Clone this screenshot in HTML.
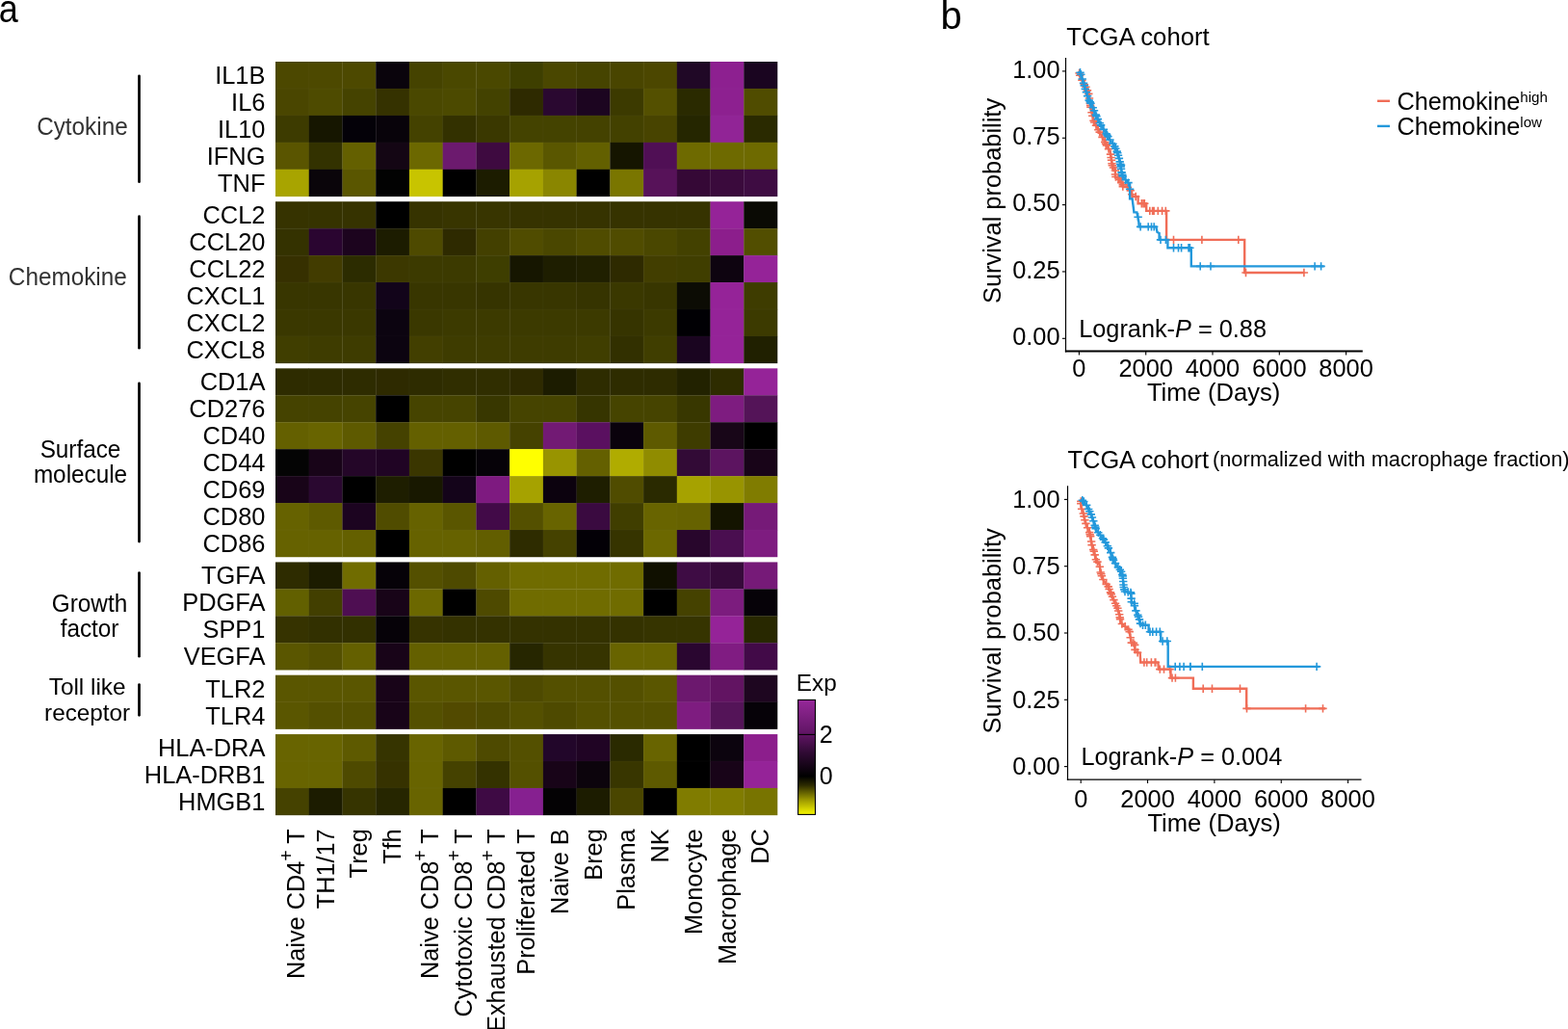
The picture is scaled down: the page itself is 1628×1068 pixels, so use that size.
<!DOCTYPE html><html><head><meta charset="utf-8"><style>html,body{margin:0;padding:0;background:#fff;}svg{display:block;}text{font-family:'Liberation Sans', Arial, sans-serif;}</style></head><body>
<svg width="1628" height="1068" viewBox="0 0 1628 1068">
<rect width="1628" height="1068" fill="#fff"/>
<text transform="translate(-1.3,23.2) scale(0.9,1)" font-size="40" fill="#000">a</text>
<text x="976.6" y="29.6" font-size="40" fill="#000">b</text>
<g>
<rect x="286.00" y="64.00" width="35.03" height="28.24" fill="#4c4800"/>
<rect x="320.73" y="64.00" width="35.03" height="28.24" fill="#4d4900"/>
<rect x="355.47" y="64.00" width="35.03" height="28.24" fill="#4d4900"/>
<rect x="390.20" y="64.00" width="35.03" height="28.24" fill="#0a040c"/>
<rect x="424.93" y="64.00" width="35.03" height="28.24" fill="#454300"/>
<rect x="459.67" y="64.00" width="35.03" height="28.24" fill="#4a4800"/>
<rect x="494.40" y="64.00" width="35.03" height="28.24" fill="#4a4800"/>
<rect x="529.13" y="64.00" width="35.03" height="28.24" fill="#3e3f00"/>
<rect x="563.87" y="64.00" width="35.03" height="28.24" fill="#4a4700"/>
<rect x="598.60" y="64.00" width="35.03" height="28.24" fill="#464400"/>
<rect x="633.33" y="64.00" width="35.03" height="28.24" fill="#494500"/>
<rect x="668.07" y="64.00" width="35.03" height="28.24" fill="#4c4700"/>
<rect x="702.80" y="64.00" width="35.03" height="28.24" fill="#200826"/>
<rect x="737.53" y="64.00" width="35.03" height="28.24" fill="#8d2090"/>
<rect x="772.27" y="64.00" width="35.03" height="28.24" fill="#1a0520"/>
<rect x="286.00" y="91.94" width="35.03" height="28.24" fill="#4a4600"/>
<rect x="320.73" y="91.94" width="35.03" height="28.24" fill="#4e4b00"/>
<rect x="355.47" y="91.94" width="35.03" height="28.24" fill="#454300"/>
<rect x="390.20" y="91.94" width="35.03" height="28.24" fill="#353200"/>
<rect x="424.93" y="91.94" width="35.03" height="28.24" fill="#4a4800"/>
<rect x="459.67" y="91.94" width="35.03" height="28.24" fill="#4c4a00"/>
<rect x="494.40" y="91.94" width="35.03" height="28.24" fill="#434200"/>
<rect x="529.13" y="91.94" width="35.03" height="28.24" fill="#2e2a00"/>
<rect x="563.87" y="91.94" width="35.03" height="28.24" fill="#2a0830"/>
<rect x="598.60" y="91.94" width="35.03" height="28.24" fill="#1c0520"/>
<rect x="633.33" y="91.94" width="35.03" height="28.24" fill="#3c3a00"/>
<rect x="668.07" y="91.94" width="35.03" height="28.24" fill="#545000"/>
<rect x="702.80" y="91.94" width="35.03" height="28.24" fill="#2a2a00"/>
<rect x="737.53" y="91.94" width="35.03" height="28.24" fill="#8d2090"/>
<rect x="772.27" y="91.94" width="35.03" height="28.24" fill="#504c00"/>
<rect x="286.00" y="119.88" width="35.03" height="28.24" fill="#3d3b00"/>
<rect x="320.73" y="119.88" width="35.03" height="28.24" fill="#161600"/>
<rect x="355.47" y="119.88" width="35.03" height="28.24" fill="#040108"/>
<rect x="390.20" y="119.88" width="35.03" height="28.24" fill="#08030a"/>
<rect x="424.93" y="119.88" width="35.03" height="28.24" fill="#444200"/>
<rect x="459.67" y="119.88" width="35.03" height="28.24" fill="#333100"/>
<rect x="494.40" y="119.88" width="35.03" height="28.24" fill="#3a3800"/>
<rect x="529.13" y="119.88" width="35.03" height="28.24" fill="#444300"/>
<rect x="563.87" y="119.88" width="35.03" height="28.24" fill="#444300"/>
<rect x="598.60" y="119.88" width="35.03" height="28.24" fill="#444200"/>
<rect x="633.33" y="119.88" width="35.03" height="28.24" fill="#434100"/>
<rect x="668.07" y="119.88" width="35.03" height="28.24" fill="#484400"/>
<rect x="702.80" y="119.88" width="35.03" height="28.24" fill="#252600"/>
<rect x="737.53" y="119.88" width="35.03" height="28.24" fill="#912496"/>
<rect x="772.27" y="119.88" width="35.03" height="28.24" fill="#2a2a00"/>
<rect x="286.00" y="147.82" width="35.03" height="28.24" fill="#5a5500"/>
<rect x="320.73" y="147.82" width="35.03" height="28.24" fill="#333200"/>
<rect x="355.47" y="147.82" width="35.03" height="28.24" fill="#646000"/>
<rect x="390.20" y="147.82" width="35.03" height="28.24" fill="#140614"/>
<rect x="424.93" y="147.82" width="35.03" height="28.24" fill="#6c6800"/>
<rect x="459.67" y="147.82" width="35.03" height="28.24" fill="#6c1a6e"/>
<rect x="494.40" y="147.82" width="35.03" height="28.24" fill="#3e0a40"/>
<rect x="529.13" y="147.82" width="35.03" height="28.24" fill="#6c6800"/>
<rect x="563.87" y="147.82" width="35.03" height="28.24" fill="#5a5700"/>
<rect x="598.60" y="147.82" width="35.03" height="28.24" fill="#636000"/>
<rect x="633.33" y="147.82" width="35.03" height="28.24" fill="#151500"/>
<rect x="668.07" y="147.82" width="35.03" height="28.24" fill="#500f55"/>
<rect x="702.80" y="147.82" width="35.03" height="28.24" fill="#6e6a00"/>
<rect x="737.53" y="147.82" width="35.03" height="28.24" fill="#6e6a00"/>
<rect x="772.27" y="147.82" width="35.03" height="28.24" fill="#6e6a00"/>
<rect x="286.00" y="175.76" width="35.03" height="28.24" fill="#a8a400"/>
<rect x="320.73" y="175.76" width="35.03" height="28.24" fill="#0a050a"/>
<rect x="355.47" y="175.76" width="35.03" height="28.24" fill="#5a5600"/>
<rect x="390.20" y="175.76" width="35.03" height="28.24" fill="#020202"/>
<rect x="424.93" y="175.76" width="35.03" height="28.24" fill="#c8c400"/>
<rect x="459.67" y="175.76" width="35.03" height="28.24" fill="#000000"/>
<rect x="494.40" y="175.76" width="35.03" height="28.24" fill="#1c1c00"/>
<rect x="529.13" y="175.76" width="35.03" height="28.24" fill="#a6a200"/>
<rect x="563.87" y="175.76" width="35.03" height="28.24" fill="#8a8600"/>
<rect x="598.60" y="175.76" width="35.03" height="28.24" fill="#000000"/>
<rect x="633.33" y="175.76" width="35.03" height="28.24" fill="#7a7600"/>
<rect x="668.07" y="175.76" width="35.03" height="28.24" fill="#571259"/>
<rect x="702.80" y="175.76" width="35.03" height="28.24" fill="#350836"/>
<rect x="737.53" y="175.76" width="35.03" height="28.24" fill="#3a0a3c"/>
<rect x="772.27" y="175.76" width="35.03" height="28.24" fill="#3e0c42"/>
<rect x="286.00" y="209.20" width="35.03" height="28.24" fill="#363300"/>
<rect x="320.73" y="209.20" width="35.03" height="28.24" fill="#363300"/>
<rect x="355.47" y="209.20" width="35.03" height="28.24" fill="#363300"/>
<rect x="390.20" y="209.20" width="35.03" height="28.24" fill="#000000"/>
<rect x="424.93" y="209.20" width="35.03" height="28.24" fill="#363300"/>
<rect x="459.67" y="209.20" width="35.03" height="28.24" fill="#383500"/>
<rect x="494.40" y="209.20" width="35.03" height="28.24" fill="#383500"/>
<rect x="529.13" y="209.20" width="35.03" height="28.24" fill="#363300"/>
<rect x="563.87" y="209.20" width="35.03" height="28.24" fill="#363300"/>
<rect x="598.60" y="209.20" width="35.03" height="28.24" fill="#363300"/>
<rect x="633.33" y="209.20" width="35.03" height="28.24" fill="#363300"/>
<rect x="668.07" y="209.20" width="35.03" height="28.24" fill="#363300"/>
<rect x="702.80" y="209.20" width="35.03" height="28.24" fill="#363300"/>
<rect x="737.53" y="209.20" width="35.03" height="28.24" fill="#952398"/>
<rect x="772.27" y="209.20" width="35.03" height="28.24" fill="#0a0a04"/>
<rect x="286.00" y="237.14" width="35.03" height="28.24" fill="#343200"/>
<rect x="320.73" y="237.14" width="35.03" height="28.24" fill="#2a0530"/>
<rect x="355.47" y="237.14" width="35.03" height="28.24" fill="#1c041e"/>
<rect x="390.20" y="237.14" width="35.03" height="28.24" fill="#1c1c00"/>
<rect x="424.93" y="237.14" width="35.03" height="28.24" fill="#4e4a00"/>
<rect x="459.67" y="237.14" width="35.03" height="28.24" fill="#2e2a00"/>
<rect x="494.40" y="237.14" width="35.03" height="28.24" fill="#434000"/>
<rect x="529.13" y="237.14" width="35.03" height="28.24" fill="#504c00"/>
<rect x="563.87" y="237.14" width="35.03" height="28.24" fill="#4a4700"/>
<rect x="598.60" y="237.14" width="35.03" height="28.24" fill="#504c00"/>
<rect x="633.33" y="237.14" width="35.03" height="28.24" fill="#504c00"/>
<rect x="668.07" y="237.14" width="35.03" height="28.24" fill="#4a4700"/>
<rect x="702.80" y="237.14" width="35.03" height="28.24" fill="#434100"/>
<rect x="737.53" y="237.14" width="35.03" height="28.24" fill="#8c1e8c"/>
<rect x="772.27" y="237.14" width="35.03" height="28.24" fill="#524e00"/>
<rect x="286.00" y="265.08" width="35.03" height="28.24" fill="#363000"/>
<rect x="320.73" y="265.08" width="35.03" height="28.24" fill="#423c00"/>
<rect x="355.47" y="265.08" width="35.03" height="28.24" fill="#2c2c00"/>
<rect x="390.20" y="265.08" width="35.03" height="28.24" fill="#3c3800"/>
<rect x="424.93" y="265.08" width="35.03" height="28.24" fill="#3c3a00"/>
<rect x="459.67" y="265.08" width="35.03" height="28.24" fill="#3c3a00"/>
<rect x="494.40" y="265.08" width="35.03" height="28.24" fill="#3e3e00"/>
<rect x="529.13" y="265.08" width="35.03" height="28.24" fill="#161600"/>
<rect x="563.87" y="265.08" width="35.03" height="28.24" fill="#1e1e00"/>
<rect x="598.60" y="265.08" width="35.03" height="28.24" fill="#202000"/>
<rect x="633.33" y="265.08" width="35.03" height="28.24" fill="#2e2a00"/>
<rect x="668.07" y="265.08" width="35.03" height="28.24" fill="#423e00"/>
<rect x="702.80" y="265.08" width="35.03" height="28.24" fill="#403e00"/>
<rect x="737.53" y="265.08" width="35.03" height="28.24" fill="#0e0410"/>
<rect x="772.27" y="265.08" width="35.03" height="28.24" fill="#952398"/>
<rect x="286.00" y="293.02" width="35.03" height="28.24" fill="#383600"/>
<rect x="320.73" y="293.02" width="35.03" height="28.24" fill="#383600"/>
<rect x="355.47" y="293.02" width="35.03" height="28.24" fill="#383600"/>
<rect x="390.20" y="293.02" width="35.03" height="28.24" fill="#12041a"/>
<rect x="424.93" y="293.02" width="35.03" height="28.24" fill="#383600"/>
<rect x="459.67" y="293.02" width="35.03" height="28.24" fill="#383600"/>
<rect x="494.40" y="293.02" width="35.03" height="28.24" fill="#363400"/>
<rect x="529.13" y="293.02" width="35.03" height="28.24" fill="#383600"/>
<rect x="563.87" y="293.02" width="35.03" height="28.24" fill="#383600"/>
<rect x="598.60" y="293.02" width="35.03" height="28.24" fill="#363400"/>
<rect x="633.33" y="293.02" width="35.03" height="28.24" fill="#3a3800"/>
<rect x="668.07" y="293.02" width="35.03" height="28.24" fill="#383600"/>
<rect x="702.80" y="293.02" width="35.03" height="28.24" fill="#0c0c04"/>
<rect x="737.53" y="293.02" width="35.03" height="28.24" fill="#952398"/>
<rect x="772.27" y="293.02" width="35.03" height="28.24" fill="#3e3c00"/>
<rect x="286.00" y="320.96" width="35.03" height="28.24" fill="#3a3800"/>
<rect x="320.73" y="320.96" width="35.03" height="28.24" fill="#3a3800"/>
<rect x="355.47" y="320.96" width="35.03" height="28.24" fill="#3a3800"/>
<rect x="390.20" y="320.96" width="35.03" height="28.24" fill="#0c0410"/>
<rect x="424.93" y="320.96" width="35.03" height="28.24" fill="#3a3800"/>
<rect x="459.67" y="320.96" width="35.03" height="28.24" fill="#3c3a00"/>
<rect x="494.40" y="320.96" width="35.03" height="28.24" fill="#3c3a00"/>
<rect x="529.13" y="320.96" width="35.03" height="28.24" fill="#3c3a00"/>
<rect x="563.87" y="320.96" width="35.03" height="28.24" fill="#3c3a00"/>
<rect x="598.60" y="320.96" width="35.03" height="28.24" fill="#3c3a00"/>
<rect x="633.33" y="320.96" width="35.03" height="28.24" fill="#363400"/>
<rect x="668.07" y="320.96" width="35.03" height="28.24" fill="#3c3a00"/>
<rect x="702.80" y="320.96" width="35.03" height="28.24" fill="#010004"/>
<rect x="737.53" y="320.96" width="35.03" height="28.24" fill="#952398"/>
<rect x="772.27" y="320.96" width="35.03" height="28.24" fill="#3c3a00"/>
<rect x="286.00" y="348.90" width="35.03" height="28.24" fill="#403e00"/>
<rect x="320.73" y="348.90" width="35.03" height="28.24" fill="#3e3c00"/>
<rect x="355.47" y="348.90" width="35.03" height="28.24" fill="#3e3c00"/>
<rect x="390.20" y="348.90" width="35.03" height="28.24" fill="#0c0410"/>
<rect x="424.93" y="348.90" width="35.03" height="28.24" fill="#423f00"/>
<rect x="459.67" y="348.90" width="35.03" height="28.24" fill="#3e3c00"/>
<rect x="494.40" y="348.90" width="35.03" height="28.24" fill="#3e3c00"/>
<rect x="529.13" y="348.90" width="35.03" height="28.24" fill="#3e3c00"/>
<rect x="563.87" y="348.90" width="35.03" height="28.24" fill="#3e3c00"/>
<rect x="598.60" y="348.90" width="35.03" height="28.24" fill="#403e00"/>
<rect x="633.33" y="348.90" width="35.03" height="28.24" fill="#323000"/>
<rect x="668.07" y="348.90" width="35.03" height="28.24" fill="#403e00"/>
<rect x="702.80" y="348.90" width="35.03" height="28.24" fill="#1a0520"/>
<rect x="737.53" y="348.90" width="35.03" height="28.24" fill="#952398"/>
<rect x="772.27" y="348.90" width="35.03" height="28.24" fill="#202000"/>
<rect x="286.00" y="382.34" width="35.03" height="28.24" fill="#2e2c00"/>
<rect x="320.73" y="382.34" width="35.03" height="28.24" fill="#2e2c00"/>
<rect x="355.47" y="382.34" width="35.03" height="28.24" fill="#2e2c00"/>
<rect x="390.20" y="382.34" width="35.03" height="28.24" fill="#2e2a00"/>
<rect x="424.93" y="382.34" width="35.03" height="28.24" fill="#2e2c00"/>
<rect x="459.67" y="382.34" width="35.03" height="28.24" fill="#302e00"/>
<rect x="494.40" y="382.34" width="35.03" height="28.24" fill="#302e00"/>
<rect x="529.13" y="382.34" width="35.03" height="28.24" fill="#2e2a00"/>
<rect x="563.87" y="382.34" width="35.03" height="28.24" fill="#1c1c00"/>
<rect x="598.60" y="382.34" width="35.03" height="28.24" fill="#2e2c00"/>
<rect x="633.33" y="382.34" width="35.03" height="28.24" fill="#2e2c00"/>
<rect x="668.07" y="382.34" width="35.03" height="28.24" fill="#2e2c00"/>
<rect x="702.80" y="382.34" width="35.03" height="28.24" fill="#222200"/>
<rect x="737.53" y="382.34" width="35.03" height="28.24" fill="#2e2c00"/>
<rect x="772.27" y="382.34" width="35.03" height="28.24" fill="#952398"/>
<rect x="286.00" y="410.28" width="35.03" height="28.24" fill="#454300"/>
<rect x="320.73" y="410.28" width="35.03" height="28.24" fill="#454300"/>
<rect x="355.47" y="410.28" width="35.03" height="28.24" fill="#464400"/>
<rect x="390.20" y="410.28" width="35.03" height="28.24" fill="#000000"/>
<rect x="424.93" y="410.28" width="35.03" height="28.24" fill="#464400"/>
<rect x="459.67" y="410.28" width="35.03" height="28.24" fill="#464400"/>
<rect x="494.40" y="410.28" width="35.03" height="28.24" fill="#383700"/>
<rect x="529.13" y="410.28" width="35.03" height="28.24" fill="#464400"/>
<rect x="563.87" y="410.28" width="35.03" height="28.24" fill="#464400"/>
<rect x="598.60" y="410.28" width="35.03" height="28.24" fill="#363500"/>
<rect x="633.33" y="410.28" width="35.03" height="28.24" fill="#464400"/>
<rect x="668.07" y="410.28" width="35.03" height="28.24" fill="#464400"/>
<rect x="702.80" y="410.28" width="35.03" height="28.24" fill="#383700"/>
<rect x="737.53" y="410.28" width="35.03" height="28.24" fill="#7e1c80"/>
<rect x="772.27" y="410.28" width="35.03" height="28.24" fill="#541458"/>
<rect x="286.00" y="438.22" width="35.03" height="28.24" fill="#646000"/>
<rect x="320.73" y="438.22" width="35.03" height="28.24" fill="#686400"/>
<rect x="355.47" y="438.22" width="35.03" height="28.24" fill="#5e5a00"/>
<rect x="390.20" y="438.22" width="35.03" height="28.24" fill="#454200"/>
<rect x="424.93" y="438.22" width="35.03" height="28.24" fill="#646000"/>
<rect x="459.67" y="438.22" width="35.03" height="28.24" fill="#646000"/>
<rect x="494.40" y="438.22" width="35.03" height="28.24" fill="#5e5a00"/>
<rect x="529.13" y="438.22" width="35.03" height="28.24" fill="#454200"/>
<rect x="563.87" y="438.22" width="35.03" height="28.24" fill="#721a74"/>
<rect x="598.60" y="438.22" width="35.03" height="28.24" fill="#5a1060"/>
<rect x="633.33" y="438.22" width="35.03" height="28.24" fill="#0a020c"/>
<rect x="668.07" y="438.22" width="35.03" height="28.24" fill="#5e5a00"/>
<rect x="702.80" y="438.22" width="35.03" height="28.24" fill="#3e3c00"/>
<rect x="737.53" y="438.22" width="35.03" height="28.24" fill="#180618"/>
<rect x="772.27" y="438.22" width="35.03" height="28.24" fill="#000000"/>
<rect x="286.00" y="466.16" width="35.03" height="28.24" fill="#040404"/>
<rect x="320.73" y="466.16" width="35.03" height="28.24" fill="#180418"/>
<rect x="355.47" y="466.16" width="35.03" height="28.24" fill="#240628"/>
<rect x="390.20" y="466.16" width="35.03" height="28.24" fill="#200424"/>
<rect x="424.93" y="466.16" width="35.03" height="28.24" fill="#3a3600"/>
<rect x="459.67" y="466.16" width="35.03" height="28.24" fill="#000000"/>
<rect x="494.40" y="466.16" width="35.03" height="28.24" fill="#060208"/>
<rect x="529.13" y="466.16" width="35.03" height="28.24" fill="#ffff00"/>
<rect x="563.87" y="466.16" width="35.03" height="28.24" fill="#989400"/>
<rect x="598.60" y="466.16" width="35.03" height="28.24" fill="#646000"/>
<rect x="633.33" y="466.16" width="35.03" height="28.24" fill="#b0ac00"/>
<rect x="668.07" y="466.16" width="35.03" height="28.24" fill="#908c00"/>
<rect x="702.80" y="466.16" width="35.03" height="28.24" fill="#320a36"/>
<rect x="737.53" y="466.16" width="35.03" height="28.24" fill="#5c1460"/>
<rect x="772.27" y="466.16" width="35.03" height="28.24" fill="#180418"/>
<rect x="286.00" y="494.10" width="35.03" height="28.24" fill="#180418"/>
<rect x="320.73" y="494.10" width="35.03" height="28.24" fill="#2a0830"/>
<rect x="355.47" y="494.10" width="35.03" height="28.24" fill="#000000"/>
<rect x="390.20" y="494.10" width="35.03" height="28.24" fill="#1e1e00"/>
<rect x="424.93" y="494.10" width="35.03" height="28.24" fill="#181800"/>
<rect x="459.67" y="494.10" width="35.03" height="28.24" fill="#14041a"/>
<rect x="494.40" y="494.10" width="35.03" height="28.24" fill="#7e1a80"/>
<rect x="529.13" y="494.10" width="35.03" height="28.24" fill="#a6a200"/>
<rect x="563.87" y="494.10" width="35.03" height="28.24" fill="#0c020e"/>
<rect x="598.60" y="494.10" width="35.03" height="28.24" fill="#1e1e00"/>
<rect x="633.33" y="494.10" width="35.03" height="28.24" fill="#504c00"/>
<rect x="668.07" y="494.10" width="35.03" height="28.24" fill="#2a2a00"/>
<rect x="702.80" y="494.10" width="35.03" height="28.24" fill="#a6a200"/>
<rect x="737.53" y="494.10" width="35.03" height="28.24" fill="#989400"/>
<rect x="772.27" y="494.10" width="35.03" height="28.24" fill="#807c00"/>
<rect x="286.00" y="522.04" width="35.03" height="28.24" fill="#666200"/>
<rect x="320.73" y="522.04" width="35.03" height="28.24" fill="#5e5a00"/>
<rect x="355.47" y="522.04" width="35.03" height="28.24" fill="#1c0420"/>
<rect x="390.20" y="522.04" width="35.03" height="28.24" fill="#504c00"/>
<rect x="424.93" y="522.04" width="35.03" height="28.24" fill="#666200"/>
<rect x="459.67" y="522.04" width="35.03" height="28.24" fill="#5a5600"/>
<rect x="494.40" y="522.04" width="35.03" height="28.24" fill="#420a48"/>
<rect x="529.13" y="522.04" width="35.03" height="28.24" fill="#545000"/>
<rect x="563.87" y="522.04" width="35.03" height="28.24" fill="#686400"/>
<rect x="598.60" y="522.04" width="35.03" height="28.24" fill="#3a0a40"/>
<rect x="633.33" y="522.04" width="35.03" height="28.24" fill="#403e00"/>
<rect x="668.07" y="522.04" width="35.03" height="28.24" fill="#686400"/>
<rect x="702.80" y="522.04" width="35.03" height="28.24" fill="#666200"/>
<rect x="737.53" y="522.04" width="35.03" height="28.24" fill="#141400"/>
<rect x="772.27" y="522.04" width="35.03" height="28.24" fill="#761a78"/>
<rect x="286.00" y="549.98" width="35.03" height="28.24" fill="#666200"/>
<rect x="320.73" y="549.98" width="35.03" height="28.24" fill="#666200"/>
<rect x="355.47" y="549.98" width="35.03" height="28.24" fill="#646000"/>
<rect x="390.20" y="549.98" width="35.03" height="28.24" fill="#000000"/>
<rect x="424.93" y="549.98" width="35.03" height="28.24" fill="#666200"/>
<rect x="459.67" y="549.98" width="35.03" height="28.24" fill="#666200"/>
<rect x="494.40" y="549.98" width="35.03" height="28.24" fill="#625e00"/>
<rect x="529.13" y="549.98" width="35.03" height="28.24" fill="#2e2c00"/>
<rect x="563.87" y="549.98" width="35.03" height="28.24" fill="#454200"/>
<rect x="598.60" y="549.98" width="35.03" height="28.24" fill="#030006"/>
<rect x="633.33" y="549.98" width="35.03" height="28.24" fill="#363400"/>
<rect x="668.07" y="549.98" width="35.03" height="28.24" fill="#6c6800"/>
<rect x="702.80" y="549.98" width="35.03" height="28.24" fill="#28062c"/>
<rect x="737.53" y="549.98" width="35.03" height="28.24" fill="#4a0e50"/>
<rect x="772.27" y="549.98" width="35.03" height="28.24" fill="#7e1c80"/>
<rect x="286.00" y="583.42" width="35.03" height="28.24" fill="#2e2c00"/>
<rect x="320.73" y="583.42" width="35.03" height="28.24" fill="#1c1c00"/>
<rect x="355.47" y="583.42" width="35.03" height="28.24" fill="#706c00"/>
<rect x="390.20" y="583.42" width="35.03" height="28.24" fill="#060208"/>
<rect x="424.93" y="583.42" width="35.03" height="28.24" fill="#545000"/>
<rect x="459.67" y="583.42" width="35.03" height="28.24" fill="#4e4a00"/>
<rect x="494.40" y="583.42" width="35.03" height="28.24" fill="#646000"/>
<rect x="529.13" y="583.42" width="35.03" height="28.24" fill="#706c00"/>
<rect x="563.87" y="583.42" width="35.03" height="28.24" fill="#706c00"/>
<rect x="598.60" y="583.42" width="35.03" height="28.24" fill="#706c00"/>
<rect x="633.33" y="583.42" width="35.03" height="28.24" fill="#706c00"/>
<rect x="668.07" y="583.42" width="35.03" height="28.24" fill="#101000"/>
<rect x="702.80" y="583.42" width="35.03" height="28.24" fill="#3e0c44"/>
<rect x="737.53" y="583.42" width="35.03" height="28.24" fill="#360a3a"/>
<rect x="772.27" y="583.42" width="35.03" height="28.24" fill="#761a78"/>
<rect x="286.00" y="611.36" width="35.03" height="28.24" fill="#626000"/>
<rect x="320.73" y="611.36" width="35.03" height="28.24" fill="#423f00"/>
<rect x="355.47" y="611.36" width="35.03" height="28.24" fill="#4e0e52"/>
<rect x="390.20" y="611.36" width="35.03" height="28.24" fill="#180418"/>
<rect x="424.93" y="611.36" width="35.03" height="28.24" fill="#6c6800"/>
<rect x="459.67" y="611.36" width="35.03" height="28.24" fill="#000000"/>
<rect x="494.40" y="611.36" width="35.03" height="28.24" fill="#4e4a00"/>
<rect x="529.13" y="611.36" width="35.03" height="28.24" fill="#706c00"/>
<rect x="563.87" y="611.36" width="35.03" height="28.24" fill="#706c00"/>
<rect x="598.60" y="611.36" width="35.03" height="28.24" fill="#706c00"/>
<rect x="633.33" y="611.36" width="35.03" height="28.24" fill="#706c00"/>
<rect x="668.07" y="611.36" width="35.03" height="28.24" fill="#000000"/>
<rect x="702.80" y="611.36" width="35.03" height="28.24" fill="#454200"/>
<rect x="737.53" y="611.36" width="35.03" height="28.24" fill="#7c1c7e"/>
<rect x="772.27" y="611.36" width="35.03" height="28.24" fill="#060208"/>
<rect x="286.00" y="639.30" width="35.03" height="28.24" fill="#363300"/>
<rect x="320.73" y="639.30" width="35.03" height="28.24" fill="#323000"/>
<rect x="355.47" y="639.30" width="35.03" height="28.24" fill="#323000"/>
<rect x="390.20" y="639.30" width="35.03" height="28.24" fill="#060208"/>
<rect x="424.93" y="639.30" width="35.03" height="28.24" fill="#363300"/>
<rect x="459.67" y="639.30" width="35.03" height="28.24" fill="#343200"/>
<rect x="494.40" y="639.30" width="35.03" height="28.24" fill="#343200"/>
<rect x="529.13" y="639.30" width="35.03" height="28.24" fill="#343200"/>
<rect x="563.87" y="639.30" width="35.03" height="28.24" fill="#343200"/>
<rect x="598.60" y="639.30" width="35.03" height="28.24" fill="#343200"/>
<rect x="633.33" y="639.30" width="35.03" height="28.24" fill="#343200"/>
<rect x="668.07" y="639.30" width="35.03" height="28.24" fill="#363400"/>
<rect x="702.80" y="639.30" width="35.03" height="28.24" fill="#363400"/>
<rect x="737.53" y="639.30" width="35.03" height="28.24" fill="#952398"/>
<rect x="772.27" y="639.30" width="35.03" height="28.24" fill="#282800"/>
<rect x="286.00" y="667.24" width="35.03" height="28.24" fill="#5a5600"/>
<rect x="320.73" y="667.24" width="35.03" height="28.24" fill="#545000"/>
<rect x="355.47" y="667.24" width="35.03" height="28.24" fill="#646000"/>
<rect x="390.20" y="667.24" width="35.03" height="28.24" fill="#180418"/>
<rect x="424.93" y="667.24" width="35.03" height="28.24" fill="#646000"/>
<rect x="459.67" y="667.24" width="35.03" height="28.24" fill="#646000"/>
<rect x="494.40" y="667.24" width="35.03" height="28.24" fill="#646000"/>
<rect x="529.13" y="667.24" width="35.03" height="28.24" fill="#262600"/>
<rect x="563.87" y="667.24" width="35.03" height="28.24" fill="#363400"/>
<rect x="598.60" y="667.24" width="35.03" height="28.24" fill="#363400"/>
<rect x="633.33" y="667.24" width="35.03" height="28.24" fill="#686400"/>
<rect x="668.07" y="667.24" width="35.03" height="28.24" fill="#686400"/>
<rect x="702.80" y="667.24" width="35.03" height="28.24" fill="#2a0630"/>
<rect x="737.53" y="667.24" width="35.03" height="28.24" fill="#801c82"/>
<rect x="772.27" y="667.24" width="35.03" height="28.24" fill="#420a48"/>
<rect x="286.00" y="700.68" width="35.03" height="28.24" fill="#5a5600"/>
<rect x="320.73" y="700.68" width="35.03" height="28.24" fill="#5a5600"/>
<rect x="355.47" y="700.68" width="35.03" height="28.24" fill="#5a5600"/>
<rect x="390.20" y="700.68" width="35.03" height="28.24" fill="#180418"/>
<rect x="424.93" y="700.68" width="35.03" height="28.24" fill="#5a5600"/>
<rect x="459.67" y="700.68" width="35.03" height="28.24" fill="#5a5600"/>
<rect x="494.40" y="700.68" width="35.03" height="28.24" fill="#5a5600"/>
<rect x="529.13" y="700.68" width="35.03" height="28.24" fill="#4e4a00"/>
<rect x="563.87" y="700.68" width="35.03" height="28.24" fill="#545000"/>
<rect x="598.60" y="700.68" width="35.03" height="28.24" fill="#545000"/>
<rect x="633.33" y="700.68" width="35.03" height="28.24" fill="#545000"/>
<rect x="668.07" y="700.68" width="35.03" height="28.24" fill="#5a5600"/>
<rect x="702.80" y="700.68" width="35.03" height="28.24" fill="#6c186e"/>
<rect x="737.53" y="700.68" width="35.03" height="28.24" fill="#621462"/>
<rect x="772.27" y="700.68" width="35.03" height="28.24" fill="#1e0620"/>
<rect x="286.00" y="728.62" width="35.03" height="28.24" fill="#5a5600"/>
<rect x="320.73" y="728.62" width="35.03" height="28.24" fill="#545000"/>
<rect x="355.47" y="728.62" width="35.03" height="28.24" fill="#545000"/>
<rect x="390.20" y="728.62" width="35.03" height="28.24" fill="#180418"/>
<rect x="424.93" y="728.62" width="35.03" height="28.24" fill="#545000"/>
<rect x="459.67" y="728.62" width="35.03" height="28.24" fill="#524a00"/>
<rect x="494.40" y="728.62" width="35.03" height="28.24" fill="#4e4a00"/>
<rect x="529.13" y="728.62" width="35.03" height="28.24" fill="#545000"/>
<rect x="563.87" y="728.62" width="35.03" height="28.24" fill="#4e4a00"/>
<rect x="598.60" y="728.62" width="35.03" height="28.24" fill="#545000"/>
<rect x="633.33" y="728.62" width="35.03" height="28.24" fill="#545000"/>
<rect x="668.07" y="728.62" width="35.03" height="28.24" fill="#545000"/>
<rect x="702.80" y="728.62" width="35.03" height="28.24" fill="#7e1c80"/>
<rect x="737.53" y="728.62" width="35.03" height="28.24" fill="#541458"/>
<rect x="772.27" y="728.62" width="35.03" height="28.24" fill="#060208"/>
<rect x="286.00" y="762.06" width="35.03" height="28.24" fill="#686400"/>
<rect x="320.73" y="762.06" width="35.03" height="28.24" fill="#686400"/>
<rect x="355.47" y="762.06" width="35.03" height="28.24" fill="#5e5a00"/>
<rect x="390.20" y="762.06" width="35.03" height="28.24" fill="#363400"/>
<rect x="424.93" y="762.06" width="35.03" height="28.24" fill="#686400"/>
<rect x="459.67" y="762.06" width="35.03" height="28.24" fill="#5e5a00"/>
<rect x="494.40" y="762.06" width="35.03" height="28.24" fill="#4e4a00"/>
<rect x="529.13" y="762.06" width="35.03" height="28.24" fill="#545000"/>
<rect x="563.87" y="762.06" width="35.03" height="28.24" fill="#22062a"/>
<rect x="598.60" y="762.06" width="35.03" height="28.24" fill="#200424"/>
<rect x="633.33" y="762.06" width="35.03" height="28.24" fill="#2a2a00"/>
<rect x="668.07" y="762.06" width="35.03" height="28.24" fill="#686400"/>
<rect x="702.80" y="762.06" width="35.03" height="28.24" fill="#000000"/>
<rect x="737.53" y="762.06" width="35.03" height="28.24" fill="#0c040e"/>
<rect x="772.27" y="762.06" width="35.03" height="28.24" fill="#8c1e8c"/>
<rect x="286.00" y="790.00" width="35.03" height="28.24" fill="#686400"/>
<rect x="320.73" y="790.00" width="35.03" height="28.24" fill="#686400"/>
<rect x="355.47" y="790.00" width="35.03" height="28.24" fill="#4e4a00"/>
<rect x="390.20" y="790.00" width="35.03" height="28.24" fill="#363200"/>
<rect x="424.93" y="790.00" width="35.03" height="28.24" fill="#686400"/>
<rect x="459.67" y="790.00" width="35.03" height="28.24" fill="#454200"/>
<rect x="494.40" y="790.00" width="35.03" height="28.24" fill="#343200"/>
<rect x="529.13" y="790.00" width="35.03" height="28.24" fill="#545000"/>
<rect x="563.87" y="790.00" width="35.03" height="28.24" fill="#180418"/>
<rect x="598.60" y="790.00" width="35.03" height="28.24" fill="#0c040c"/>
<rect x="633.33" y="790.00" width="35.03" height="28.24" fill="#383600"/>
<rect x="668.07" y="790.00" width="35.03" height="28.24" fill="#5e5a00"/>
<rect x="702.80" y="790.00" width="35.03" height="28.24" fill="#000000"/>
<rect x="737.53" y="790.00" width="35.03" height="28.24" fill="#180418"/>
<rect x="772.27" y="790.00" width="35.03" height="28.24" fill="#952398"/>
<rect x="286.00" y="817.94" width="35.03" height="28.24" fill="#454200"/>
<rect x="320.73" y="817.94" width="35.03" height="28.24" fill="#1c1c00"/>
<rect x="355.47" y="817.94" width="35.03" height="28.24" fill="#363400"/>
<rect x="390.20" y="817.94" width="35.03" height="28.24" fill="#262600"/>
<rect x="424.93" y="817.94" width="35.03" height="28.24" fill="#686400"/>
<rect x="459.67" y="817.94" width="35.03" height="28.24" fill="#000000"/>
<rect x="494.40" y="817.94" width="35.03" height="28.24" fill="#3e0a44"/>
<rect x="529.13" y="817.94" width="35.03" height="28.24" fill="#862090"/>
<rect x="563.87" y="817.94" width="35.03" height="28.24" fill="#040204"/>
<rect x="598.60" y="817.94" width="35.03" height="28.24" fill="#1c1c00"/>
<rect x="633.33" y="817.94" width="35.03" height="28.24" fill="#4a4600"/>
<rect x="668.07" y="817.94" width="35.03" height="28.24" fill="#000000"/>
<rect x="702.80" y="817.94" width="35.03" height="28.24" fill="#807c00"/>
<rect x="737.53" y="817.94" width="35.03" height="28.24" fill="#807c00"/>
<rect x="772.27" y="817.94" width="35.03" height="28.24" fill="#787400"/>
</g>
<path d="M320.73 64.00V203.70M355.47 64.00V203.70M390.20 64.00V203.70M424.93 64.00V203.70M459.67 64.00V203.70M494.40 64.00V203.70M529.13 64.00V203.70M563.87 64.00V203.70M598.60 64.00V203.70M633.33 64.00V203.70M668.07 64.00V203.70M702.80 64.00V203.70M737.53 64.00V203.70M772.27 64.00V203.70M286.0 91.94H807.0M286.0 119.88H807.0M286.0 147.82H807.0M286.0 175.76H807.0M320.73 209.20V376.84M355.47 209.20V376.84M390.20 209.20V376.84M424.93 209.20V376.84M459.67 209.20V376.84M494.40 209.20V376.84M529.13 209.20V376.84M563.87 209.20V376.84M598.60 209.20V376.84M633.33 209.20V376.84M668.07 209.20V376.84M702.80 209.20V376.84M737.53 209.20V376.84M772.27 209.20V376.84M286.0 237.14H807.0M286.0 265.08H807.0M286.0 293.02H807.0M286.0 320.96H807.0M286.0 348.90H807.0M320.73 382.34V577.92M355.47 382.34V577.92M390.20 382.34V577.92M424.93 382.34V577.92M459.67 382.34V577.92M494.40 382.34V577.92M529.13 382.34V577.92M563.87 382.34V577.92M598.60 382.34V577.92M633.33 382.34V577.92M668.07 382.34V577.92M702.80 382.34V577.92M737.53 382.34V577.92M772.27 382.34V577.92M286.0 410.28H807.0M286.0 438.22H807.0M286.0 466.16H807.0M286.0 494.10H807.0M286.0 522.04H807.0M286.0 549.98H807.0M320.73 583.42V695.18M355.47 583.42V695.18M390.20 583.42V695.18M424.93 583.42V695.18M459.67 583.42V695.18M494.40 583.42V695.18M529.13 583.42V695.18M563.87 583.42V695.18M598.60 583.42V695.18M633.33 583.42V695.18M668.07 583.42V695.18M702.80 583.42V695.18M737.53 583.42V695.18M772.27 583.42V695.18M286.0 611.36H807.0M286.0 639.30H807.0M286.0 667.24H807.0M320.73 700.68V756.56M355.47 700.68V756.56M390.20 700.68V756.56M424.93 700.68V756.56M459.67 700.68V756.56M494.40 700.68V756.56M529.13 700.68V756.56M563.87 700.68V756.56M598.60 700.68V756.56M633.33 700.68V756.56M668.07 700.68V756.56M702.80 700.68V756.56M737.53 700.68V756.56M772.27 700.68V756.56M286.0 728.62H807.0M320.73 762.06V845.88M355.47 762.06V845.88M390.20 762.06V845.88M424.93 762.06V845.88M459.67 762.06V845.88M494.40 762.06V845.88M529.13 762.06V845.88M563.87 762.06V845.88M598.60 762.06V845.88M633.33 762.06V845.88M668.07 762.06V845.88M702.80 762.06V845.88M737.53 762.06V845.88M772.27 762.06V845.88M286.0 790.00H807.0M286.0 817.94H807.0" stroke="#fff" stroke-opacity="0.05" stroke-width="0.6" fill="none"/>
<text x="275.4" y="87.06" font-size="25.4" text-anchor="end" fill="#000">IL1B</text>
<text x="275.4" y="115.00" font-size="25.4" text-anchor="end" fill="#000">IL6</text>
<text x="275.4" y="142.94" font-size="25.4" text-anchor="end" fill="#000">IL10</text>
<text x="275.4" y="170.88" font-size="25.4" text-anchor="end" fill="#000">IFNG</text>
<text x="275.4" y="198.82" font-size="25.4" text-anchor="end" fill="#000">TNF</text>
<text x="275.4" y="232.26" font-size="25.4" text-anchor="end" fill="#000">CCL2</text>
<text x="275.4" y="260.20" font-size="25.4" text-anchor="end" fill="#000">CCL20</text>
<text x="275.4" y="288.14" font-size="25.4" text-anchor="end" fill="#000">CCL22</text>
<text x="275.4" y="316.08" font-size="25.4" text-anchor="end" fill="#000">CXCL1</text>
<text x="275.4" y="344.02" font-size="25.4" text-anchor="end" fill="#000">CXCL2</text>
<text x="275.4" y="371.96" font-size="25.4" text-anchor="end" fill="#000">CXCL8</text>
<text x="275.4" y="405.40" font-size="25.4" text-anchor="end" fill="#000">CD1A</text>
<text x="275.4" y="433.34" font-size="25.4" text-anchor="end" fill="#000">CD276</text>
<text x="275.4" y="461.28" font-size="25.4" text-anchor="end" fill="#000">CD40</text>
<text x="275.4" y="489.22" font-size="25.4" text-anchor="end" fill="#000">CD44</text>
<text x="275.4" y="517.16" font-size="25.4" text-anchor="end" fill="#000">CD69</text>
<text x="275.4" y="545.10" font-size="25.4" text-anchor="end" fill="#000">CD80</text>
<text x="275.4" y="573.04" font-size="25.4" text-anchor="end" fill="#000">CD86</text>
<text x="275.4" y="606.48" font-size="25.4" text-anchor="end" fill="#000">TGFA</text>
<text x="275.4" y="634.42" font-size="25.4" text-anchor="end" fill="#000">PDGFA</text>
<text x="275.4" y="662.36" font-size="25.4" text-anchor="end" fill="#000">SPP1</text>
<text x="275.4" y="690.30" font-size="25.4" text-anchor="end" fill="#000">VEGFA</text>
<text x="275.4" y="723.74" font-size="25.4" text-anchor="end" fill="#000">TLR2</text>
<text x="275.4" y="751.68" font-size="25.4" text-anchor="end" fill="#000">TLR4</text>
<text x="275.4" y="785.12" font-size="25.4" text-anchor="end" fill="#000">HLA-DRA</text>
<text x="275.4" y="813.06" font-size="25.4" text-anchor="end" fill="#000">HLA-DRB1</text>
<text x="275.4" y="841.00" font-size="25.4" text-anchor="end" fill="#000">HMGB1</text>
<line x1="144.5" y1="78.75" x2="144.5" y2="188.75" stroke="#000" stroke-width="2.7" stroke-linecap="round"/>
<line x1="144.5" y1="224.65" x2="144.5" y2="361.25" stroke="#000" stroke-width="2.7" stroke-linecap="round"/>
<line x1="144.5" y1="397.95" x2="144.5" y2="562.05" stroke="#000" stroke-width="2.7" stroke-linecap="round"/>
<line x1="144.5" y1="594.55" x2="144.5" y2="681.25" stroke="#000" stroke-width="2.7" stroke-linecap="round"/>
<line x1="144.5" y1="710.55" x2="144.5" y2="742.35" stroke="#000" stroke-width="2.7" stroke-linecap="round"/>
<text transform="translate(85.4,139.90) scale(1,1.08)" font-size="24.3" text-anchor="middle" fill="#333">Cytokine</text>
<text transform="translate(70.3,295.50) scale(1,1.08)" font-size="24.3" text-anchor="middle" fill="#333">Chemokine</text>
<text transform="translate(83.5,474.80) scale(1,1.08)" font-size="24.3" text-anchor="middle" fill="#000">Surface</text>
<text transform="translate(83.5,500.80) scale(1,1.08)" font-size="24.3" text-anchor="middle" fill="#000">molecule</text>
<text transform="translate(93.0,634.70) scale(1,1.08)" font-size="24.3" text-anchor="middle" fill="#000">Growth</text>
<text transform="translate(93.0,660.60) scale(1,1.08)" font-size="24.3" text-anchor="middle" fill="#000">factor</text>
<text transform="translate(90.6,721.40) scale(1,1.0)" font-size="24.3" text-anchor="middle" fill="#000">Toll like</text>
<text transform="translate(90.6,748.10) scale(1,1.0)" font-size="24.3" text-anchor="middle" fill="#000">receptor</text>
<text transform="translate(315.92,860.3) rotate(-90)" font-size="25.3" text-anchor="end" fill="#000">Naive CD4<tspan font-size="19.5" dy="-11.7">+</tspan><tspan dy="11.7"> T</tspan></text>
<text transform="translate(346.76,860.3) rotate(-90)" font-size="25.3" text-anchor="end" fill="#000">TH1/17</text>
<text transform="translate(381.49,860.3) rotate(-90)" font-size="25.3" text-anchor="end" fill="#000">Treg</text>
<text transform="translate(416.22,860.3) rotate(-90)" font-size="25.3" text-anchor="end" fill="#000">Tfh</text>
<text transform="translate(454.86,860.3) rotate(-90)" font-size="25.3" text-anchor="end" fill="#000">Naive CD8<tspan font-size="19.5" dy="-11.7">+</tspan><tspan dy="11.7"> T</tspan></text>
<text transform="translate(489.59,860.3) rotate(-90)" font-size="25.3" text-anchor="end" fill="#000">Cytotoxic CD8<tspan font-size="19.5" dy="-11.7">+</tspan><tspan dy="11.7"> T</tspan></text>
<text transform="translate(524.32,860.3) rotate(-90)" font-size="25.3" text-anchor="end" fill="#000">Exhausted CD8<tspan font-size="19.5" dy="-11.7">+</tspan><tspan dy="11.7"> T</tspan></text>
<text transform="translate(555.16,860.3) rotate(-90)" font-size="25.3" text-anchor="end" fill="#000">Proliferated T</text>
<text transform="translate(589.89,860.3) rotate(-90)" font-size="25.3" text-anchor="end" fill="#000">Naive B</text>
<text transform="translate(624.62,860.3) rotate(-90)" font-size="25.3" text-anchor="end" fill="#000">Breg</text>
<text transform="translate(659.36,860.3) rotate(-90)" font-size="25.3" text-anchor="end" fill="#000">Plasma</text>
<text transform="translate(694.09,860.3) rotate(-90)" font-size="25.3" text-anchor="end" fill="#000">NK</text>
<text transform="translate(728.82,860.3) rotate(-90)" font-size="25.3" text-anchor="end" fill="#000">Monocyte</text>
<text transform="translate(763.56,860.3) rotate(-90)" font-size="25.3" text-anchor="end" fill="#000">Macrophage</text>
<text transform="translate(798.29,860.3) rotate(-90)" font-size="25.3" text-anchor="end" fill="#000">DC</text>
<defs><linearGradient id="lg" x1="0" y1="0" x2="0" y2="1"><stop offset="0" stop-color="#962899"/><stop offset="0.305" stop-color="#5e1462"/><stop offset="0.46" stop-color="#300a34"/><stop offset="0.667" stop-color="#000000"/><stop offset="0.745" stop-color="#2c2a00"/><stop offset="0.87" stop-color="#9a9600"/><stop offset="1" stop-color="#f8f800"/></linearGradient></defs>
<rect x="828.6" y="726.4" width="17.9" height="119" fill="url(#lg)" stroke="#000" stroke-width="1.1"/>
<line x1="828.6" y1="762.4" x2="846.5" y2="762.4" stroke="#000" stroke-width="1.1"/>
<text x="826.8" y="717" font-size="24.3" fill="#000">Exp</text>
<text x="850.8" y="771" font-size="25" fill="#000">2</text>
<text x="850.8" y="813.8" font-size="25" fill="#000">0</text>
<line x1="1106.5" y1="60.1" x2="1106.5" y2="365.6" stroke="#000" stroke-width="1.2"/>
<line x1="1105.9" y1="364.6" x2="1414.8" y2="364.6" stroke="#000" stroke-width="2.0"/>
<line x1="1102.9" y1="73.90" x2="1106.5" y2="73.90" stroke="#000" stroke-width="1.1"/>
<text x="1100.6" y="80.50" font-size="25.4" text-anchor="end" fill="#000">1.00</text>
<line x1="1102.9" y1="143.25" x2="1106.5" y2="143.25" stroke="#000" stroke-width="1.1"/>
<text x="1100.6" y="149.85" font-size="25.4" text-anchor="end" fill="#000">0.75</text>
<line x1="1102.9" y1="212.60" x2="1106.5" y2="212.60" stroke="#000" stroke-width="1.1"/>
<text x="1100.6" y="219.20" font-size="25.4" text-anchor="end" fill="#000">0.50</text>
<line x1="1102.9" y1="281.95" x2="1106.5" y2="281.95" stroke="#000" stroke-width="1.1"/>
<text x="1100.6" y="288.55" font-size="25.4" text-anchor="end" fill="#000">0.25</text>
<line x1="1102.9" y1="351.30" x2="1106.5" y2="351.30" stroke="#000" stroke-width="1.1"/>
<text x="1100.6" y="357.90" font-size="25.4" text-anchor="end" fill="#000">0.00</text>
<line x1="1120.40" y1="364.6" x2="1120.40" y2="368.40000000000003" stroke="#000" stroke-width="1.1"/>
<text x="1120.40" y="390.80" font-size="25.4" text-anchor="middle" fill="#000">0</text>
<line x1="1189.70" y1="364.6" x2="1189.70" y2="368.40000000000003" stroke="#000" stroke-width="1.1"/>
<text x="1189.70" y="390.80" font-size="25.4" text-anchor="middle" fill="#000">2000</text>
<line x1="1259.00" y1="364.6" x2="1259.00" y2="368.40000000000003" stroke="#000" stroke-width="1.1"/>
<text x="1259.00" y="390.80" font-size="25.4" text-anchor="middle" fill="#000">4000</text>
<line x1="1328.30" y1="364.6" x2="1328.30" y2="368.40000000000003" stroke="#000" stroke-width="1.1"/>
<text x="1328.30" y="390.80" font-size="25.4" text-anchor="middle" fill="#000">6000</text>
<line x1="1397.60" y1="364.6" x2="1397.60" y2="368.40000000000003" stroke="#000" stroke-width="1.1"/>
<text x="1397.60" y="390.80" font-size="25.4" text-anchor="middle" fill="#000">8000</text>
<text x="1107.2" y="47.4" font-size="25.7" fill="#000">TCGA cohort</text>
<text transform="translate(1038.8,208.45) rotate(-90)" font-size="25.4" text-anchor="middle" fill="#000">Survival probability</text>
<text x="1260.1" y="415.8" font-size="25.6" text-anchor="middle" fill="#000">Time (Days)</text>
<text x="1120.2" y="349.6" font-size="25.3" fill="#000">Logrank-<tspan font-style="italic">P</tspan> = 0.88</text>
<path d="M1120.3 73.9 L1120.8 77.5 L1124.1 84.7 L1127.5 90.3 L1130.3 97.1 L1131.5 105.0 L1132.7 113.4 L1135.7 126.0 L1140.8 135.5 L1145.9 145.0 L1149.5 152.0 L1152.4 157.0 L1153.5 163.0 L1154.3 168.0 L1154.9 172.9 L1157.9 176.0 L1157.9 183.3 L1162.2 185.1 L1162.8 188.7 L1165.8 190.6 L1165.8 193.6 L1170.1 193.6 L1175.0 199.1 L1175.6 204.0 L1181.6 204.0 L1181.6 211.3 L1190.2 211.3 L1190.2 218.9 L1211.1 218.9 L1211.1 248.9 L1292.2 248.9 L1292.2 283.0 L1354.3 283.0" stroke="#F06D57" stroke-width="2.4" fill="none" stroke-linejoin="miter"/>
<path d="M1116.4 75.9h8.4M1120.6 71.7v8.4M1116.9 78.2h8.4M1121.1 74.0v8.4M1119.2 83.2h8.4M1123.4 79.0v8.4M1121.7 87.7h8.4M1125.9 83.5v8.4M1123.2 90.2h8.4M1127.4 86.0v8.4M1124.8 93.9h8.4M1129.0 89.7v8.4M1126.1 97.4h8.4M1130.3 93.2v8.4M1126.8 102.0h8.4M1131.0 97.8v8.4M1127.6 107.2h8.4M1131.8 103.0v8.4M1127.9 109.4h8.4M1132.1 105.2v8.4M1128.2 111.3h8.4M1132.4 107.1v8.4M1129.3 116.7h8.4M1133.5 112.5v8.4M1130.1 120.3h8.4M1134.3 116.1v8.4M1131.3 125.3h8.4M1135.5 121.1v8.4M1132.0 127.0h8.4M1136.2 122.8v8.4M1133.8 130.3h8.4M1138.0 126.1v8.4M1136.1 134.7h8.4M1140.3 130.5v8.4M1137.5 137.1h8.4M1141.7 132.9v8.4M1140.3 142.4h8.4M1144.5 138.2v8.4M1143.0 147.5h8.4M1147.2 143.3v8.4M1143.9 149.2h8.4M1148.1 145.0v8.4M1144.7 150.9h8.4M1148.9 146.7v8.4M1146.8 154.6h8.4M1151.0 150.4v8.4M1148.8 160.1h8.4M1153.0 155.9v8.4M1149.4 163.5h8.4M1153.6 159.3v8.4M1149.8 166.2h8.4M1154.0 162.0v8.4M1150.3 169.8h8.4M1154.5 165.6v8.4M1150.6 171.7h8.4M1154.8 167.5v8.4M1151.8 174.0h8.4M1156.0 169.8v8.4M1153.7 177.0h8.4M1157.9 172.8v8.4M1153.7 181.0h8.4M1157.9 176.8v8.4M1154.2 183.5h8.4M1158.4 179.3v8.4M1156.8 184.6h8.4M1161.0 180.4v8.4M1158.2 186.5h8.4M1162.4 182.3v8.4M1160.0 189.6h8.4M1164.2 185.4v8.4M1161.6 191.7h8.4M1165.8 187.5v8.4M1161.6 193.6h8.4M1165.8 189.4v8.4M1166.7 194.5h8.4M1170.9 190.3v8.4M1169.5 197.7h8.4M1173.7 193.5v8.4M1171.1 201.8h8.4M1175.3 197.6v8.4M1189.6 218.9h8.4M1193.8 214.7v8.4M1192.4 218.9h8.4M1196.6 214.7v8.4M1193.9 218.9h8.4M1198.1 214.7v8.4M1198.1 218.9h8.4M1202.3 214.7v8.4M1202.4 218.9h8.4M1206.6 214.7v8.4M1206.1 218.9h8.4M1210.3 214.7v8.4M1181.1 211.3h8.4M1185.3 207.1v8.4M1182.9 211.3h8.4M1187.1 207.1v8.4M1184.1 211.3h8.4M1188.3 207.1v8.4M1175.0 204.0h8.4M1179.2 199.8v8.4M1214.3 248.9h8.4M1218.5 244.7v8.4M1243.7 248.9h8.4M1247.9 244.7v8.4M1281.6 248.9h8.4M1285.8 244.7v8.4M1289.3 283.0h8.4M1293.5 278.8v8.4M1349.7 283.0h8.4M1353.9 278.8v8.4" stroke="#F06D57" stroke-width="1.6" fill="none"/>
<path d="M1120.3 73.9 L1121.9 75.7 L1124.7 85.3 L1127.5 94.5 L1130.3 103.3 L1134.1 110.3 L1138.0 119.8 L1142.2 128.5 L1147.6 137.2 L1152.6 145.4 L1157.1 151.5 L1160.2 158.3 L1162.2 165.3 L1163.4 171.1 L1164.6 179.0 L1165.8 183.3 L1168.9 186.9 L1173.1 191.2 L1173.1 206.4 L1175.6 206.4 L1176.8 215.5 L1177.4 220.4 L1180.4 220.4 L1182.3 230.0 L1182.7 235.4 L1200.3 235.4 L1201.5 241.0 L1203.6 242.0 L1203.6 248.9 L1212.4 248.9 L1212.4 257.3 L1236.8 257.3 L1236.8 276.4 L1374.6 276.4" stroke="#2398DB" stroke-width="2.4" fill="none"/>
<path d="M1117.3 75.2h8.4M1121.5 71.0v8.4M1118.1 77.2h8.4M1122.3 73.0v8.4M1119.5 82.0h8.4M1123.7 77.8v8.4M1120.8 86.4h8.4M1125.0 82.2v8.4M1121.6 88.9h8.4M1125.8 84.7v8.4M1122.6 92.4h8.4M1126.8 88.2v8.4M1123.7 95.6h8.4M1127.9 91.4v8.4M1124.9 99.6h8.4M1129.1 95.4v8.4M1126.5 104.1h8.4M1130.7 99.9v8.4M1127.5 105.8h8.4M1131.7 101.6v8.4M1128.3 107.3h8.4M1132.5 103.1v8.4M1130.5 111.7h8.4M1134.7 107.5v8.4M1131.8 114.8h8.4M1136.0 110.6v8.4M1133.5 119.1h8.4M1137.7 114.9v8.4M1134.2 120.6h8.4M1138.4 116.4v8.4M1135.7 123.6h8.4M1139.9 119.4v8.4M1137.6 127.7h8.4M1141.8 123.5v8.4M1138.9 129.9h8.4M1143.1 125.7v8.4M1141.7 134.4h8.4M1145.9 130.2v8.4M1144.4 138.8h8.4M1148.6 134.6v8.4M1145.3 140.3h8.4M1149.5 136.1v8.4M1146.2 141.8h8.4M1150.4 137.6v8.4M1148.2 145.0h8.4M1152.4 140.8v8.4M1151.3 149.3h8.4M1155.5 145.1v8.4M1153.1 151.9h8.4M1157.3 147.7v8.4M1154.1 154.2h8.4M1158.3 150.0v8.4M1155.5 157.1h8.4M1159.7 152.9v8.4M1156.1 158.8h8.4M1160.3 154.6v8.4M1156.8 161.2h8.4M1161.0 157.0v8.4M1157.7 164.4h8.4M1161.9 160.2v8.4M1158.5 167.9h8.4M1162.7 163.7v8.4M1159.0 170.4h8.4M1163.2 166.2v8.4M1159.5 172.9h8.4M1163.7 168.7v8.4M1159.8 175.3h8.4M1164.0 171.1v8.4M1160.4 178.7h8.4M1164.6 174.5v8.4M1161.1 181.4h8.4M1165.3 177.2v8.4M1161.5 183.0h8.4M1165.7 178.8v8.4M1164.6 186.8h8.4M1168.8 182.6v8.4M1167.3 189.6h8.4M1171.5 185.4v8.4M1159.8 171.4h8.4M1164.0 167.2v8.4M1160.4 179.3h8.4M1164.6 175.1v8.4M1168.9 196.3h8.4M1173.1 192.1v8.4M1177.4 225.3h8.4M1181.6 221.1v8.4M1179.9 235.4h8.4M1184.1 231.2v8.4M1188.0 235.4h8.4M1192.2 231.2v8.4M1191.3 235.4h8.4M1195.5 231.2v8.4M1194.0 235.4h8.4M1198.2 231.2v8.4M1200.8 248.9h8.4M1205.0 244.7v8.4M1206.2 248.9h8.4M1210.4 244.7v8.4M1214.3 257.3h8.4M1218.5 253.1v8.4M1219.3 257.3h8.4M1223.5 253.1v8.4M1222.4 257.3h8.4M1226.6 253.1v8.4M1229.8 257.3h8.4M1234.0 253.1v8.4M1231.2 257.3h8.4M1235.4 253.1v8.4M1242.0 276.4h8.4M1246.2 272.2v8.4M1252.8 276.4h8.4M1257.0 272.2v8.4M1360.9 276.4h8.4M1365.1 272.2v8.4M1367.4 276.4h8.4M1371.6 272.2v8.4" stroke="#2398DB" stroke-width="1.6" fill="none"/>
<line x1="1430" y1="104.8" x2="1443" y2="104.8" stroke="#F06D57" stroke-width="2.4"/>
<line x1="1430" y1="130.9" x2="1443" y2="130.9" stroke="#2398DB" stroke-width="2.4"/>
<text x="1450.4" y="114.2" font-size="25.3" fill="#000">Chemokine<tspan font-size="15.1" dy="-8.4">high</tspan></text>
<text x="1450.4" y="140.2" font-size="25.3" fill="#000">Chemokine<tspan font-size="15.1" dy="-8.4">low</tspan></text>
<line x1="1108.5" y1="504.2" x2="1108.5" y2="809.8000000000001" stroke="#000" stroke-width="1.2"/>
<line x1="1107.9" y1="809.2" x2="1413.5" y2="809.2" stroke="#000" stroke-width="1.2"/>
<line x1="1104.9" y1="518.40" x2="1108.5" y2="518.40" stroke="#000" stroke-width="1.1"/>
<text x="1100.6" y="526.70" font-size="25.4" text-anchor="end" fill="#000">1.00</text>
<line x1="1104.9" y1="587.70" x2="1108.5" y2="587.70" stroke="#000" stroke-width="1.1"/>
<text x="1100.6" y="596.00" font-size="25.4" text-anchor="end" fill="#000">0.75</text>
<line x1="1104.9" y1="657.00" x2="1108.5" y2="657.00" stroke="#000" stroke-width="1.1"/>
<text x="1100.6" y="665.30" font-size="25.4" text-anchor="end" fill="#000">0.50</text>
<line x1="1104.9" y1="726.30" x2="1108.5" y2="726.30" stroke="#000" stroke-width="1.1"/>
<text x="1100.6" y="734.60" font-size="25.4" text-anchor="end" fill="#000">0.25</text>
<line x1="1104.9" y1="795.60" x2="1108.5" y2="795.60" stroke="#000" stroke-width="1.1"/>
<text x="1100.6" y="803.90" font-size="25.4" text-anchor="end" fill="#000">0.00</text>
<line x1="1122.20" y1="809.2" x2="1122.20" y2="813.0" stroke="#000" stroke-width="1.1"/>
<text x="1122.20" y="837.70" font-size="25.4" text-anchor="middle" fill="#000">0</text>
<line x1="1191.55" y1="809.2" x2="1191.55" y2="813.0" stroke="#000" stroke-width="1.1"/>
<text x="1191.55" y="837.70" font-size="25.4" text-anchor="middle" fill="#000">2000</text>
<line x1="1260.90" y1="809.2" x2="1260.90" y2="813.0" stroke="#000" stroke-width="1.1"/>
<text x="1260.90" y="837.70" font-size="25.4" text-anchor="middle" fill="#000">4000</text>
<line x1="1330.25" y1="809.2" x2="1330.25" y2="813.0" stroke="#000" stroke-width="1.1"/>
<text x="1330.25" y="837.70" font-size="25.4" text-anchor="middle" fill="#000">6000</text>
<line x1="1399.60" y1="809.2" x2="1399.60" y2="813.0" stroke="#000" stroke-width="1.1"/>
<text x="1399.60" y="837.70" font-size="25.4" text-anchor="middle" fill="#000">8000</text>
<text x="1108.6" y="486.3" font-size="25.35" fill="#000">TCGA cohort</text>
<text x="1258.9" y="483.6" font-size="21.8" fill="#000">(normalized with macrophage fraction)</text>
<text transform="translate(1038.8,654.85) rotate(-90)" font-size="25.4" text-anchor="middle" fill="#000">Survival probability</text>
<text x="1260.6" y="862.7" font-size="25.6" text-anchor="middle" fill="#000">Time (Days)</text>
<text x="1122.4" y="794" font-size="25.3" fill="#000">Logrank-<tspan font-style="italic">P</tspan> = 0.004</text>
<path d="M1122.2 518.4 L1122.4 526.3 L1124.6 532.0 L1126.9 542.0 L1129.1 547.7 L1130.8 551.0 L1132.5 557.8 L1133.6 565.7 L1135.8 572.4 L1138.1 581.4 L1141.5 585.9 L1142.6 593.8 L1144.8 600.5 L1148.2 606.1 L1150.0 607.0 L1151.9 612.2 L1154.7 618.7 L1157.5 625.3 L1160.3 630.9 L1162.2 637.5 L1163.6 645.9 L1165.9 648.7 L1168.7 650.6 L1172.5 654.3 L1173.4 659.9 L1174.8 667.4 L1178.1 667.4 L1178.6 676.8 L1183.7 677.7 L1184.2 687.5 L1202.4 687.5 L1202.9 694.6 L1215.5 694.6 L1215.5 703.6 L1238.9 703.6 L1238.9 714.8 L1294.2 714.8 L1294.2 735.4 L1376.0 735.4" stroke="#F06D57" stroke-width="2.4" fill="none"/>
<path d="M1118.1 520.4h8.4M1122.3 516.2v8.4M1118.1 522.8h8.4M1122.3 518.6v8.4M1118.9 528.2h8.4M1123.1 524.0v8.4M1120.6 533.0h8.4M1124.8 528.8v8.4M1121.3 535.9h8.4M1125.5 531.7v8.4M1122.2 539.8h8.4M1126.4 535.6v8.4M1123.2 543.4h8.4M1127.4 539.2v8.4M1124.9 547.7h8.4M1129.1 543.5v8.4M1127.0 552.6h8.4M1131.2 548.4v8.4M1127.5 554.7h8.4M1131.7 550.5v8.4M1128.0 556.6h8.4M1132.2 552.4v8.4M1128.9 562.0h8.4M1133.1 557.8v8.4M1129.4 565.6h8.4M1133.6 561.4v8.4M1131.0 570.5h8.4M1135.2 566.3v8.4M1131.6 572.3h8.4M1135.8 568.1v8.4M1132.5 575.9h8.4M1136.7 571.7v8.4M1133.7 580.7h8.4M1137.9 576.5v8.4M1135.2 583.1h8.4M1139.4 578.9v8.4M1137.6 588.3h8.4M1141.8 584.1v8.4M1138.5 594.0h8.4M1142.7 589.8v8.4M1139.1 595.8h8.4M1143.3 591.6v8.4M1139.7 597.7h8.4M1143.9 593.5v8.4M1141.2 601.5h8.4M1145.4 597.3v8.4M1144.5 606.4h8.4M1148.7 602.2v8.4M1146.5 608.9h8.4M1150.7 604.7v8.4M1147.4 611.5h8.4M1151.6 607.3v8.4M1148.8 614.9h8.4M1153.0 610.7v8.4M1149.6 616.6h8.4M1153.8 612.4v8.4M1150.7 619.2h8.4M1154.9 615.0v8.4M1152.2 622.6h8.4M1156.4 618.4v8.4M1153.8 626.3h8.4M1158.0 622.1v8.4M1155.0 628.8h8.4M1159.2 624.6v8.4M1156.2 631.3h8.4M1160.4 627.1v8.4M1157.0 634.0h8.4M1161.2 629.8v8.4M1158.0 637.7h8.4M1162.2 633.5v8.4M1158.5 640.7h8.4M1162.7 636.5v8.4M1158.8 642.6h8.4M1163.0 638.4v8.4M1160.7 647.5h8.4M1164.9 643.3v8.4M1164.0 650.2h8.4M1168.2 646.0v8.4M1167.3 653.4h8.4M1171.5 649.2v8.4M1168.5 655.6h8.4M1172.7 651.4v8.4M1169.5 661.7h8.4M1173.7 657.5v8.4M1170.6 667.1h8.4M1174.8 662.9v8.4M1172.7 667.4h8.4M1176.9 663.2v8.4M1174.0 669.4h8.4M1178.2 665.2v8.4M1174.3 674.4h8.4M1178.5 670.2v8.4M1176.9 677.2h8.4M1181.1 673.0v8.4M1183.7 687.5h8.4M1187.9 683.3v8.4M1186.5 687.5h8.4M1190.7 683.3v8.4M1191.2 687.5h8.4M1195.4 683.3v8.4M1195.0 687.5h8.4M1199.2 683.3v8.4M1195.6 687.5h8.4M1199.8 683.3v8.4M1200.1 694.6h8.4M1204.3 690.4v8.4M1204.3 694.6h8.4M1208.5 690.4v8.4M1210.4 694.6h8.4M1214.6 690.4v8.4M1212.8 703.6h8.4M1217.0 699.4v8.4M1216.2 703.6h8.4M1220.4 699.4v8.4M1245.0 714.8h8.4M1249.2 710.6v8.4M1254.3 714.8h8.4M1258.5 710.6v8.4M1283.3 714.8h8.4M1287.5 710.6v8.4M1290.3 735.4h8.4M1294.5 731.2v8.4M1351.4 735.4h8.4M1355.6 731.2v8.4M1369.3 735.4h8.4M1373.5 731.2v8.4" stroke="#F06D57" stroke-width="1.6" fill="none"/>
<path d="M1122.2 518.4 L1124.6 519.6 L1128.0 524.1 L1132.5 533.1 L1135.8 542.1 L1138.1 549.9 L1142.6 555.6 L1146.0 560.1 L1149.3 565.7 L1152.7 572.4 L1156.1 581.4 L1159.4 587.0 L1163.9 592.6 L1165.6 597.1 L1166.7 609.5 L1167.8 614.0 L1174.3 615.0 L1174.8 625.3 L1177.6 625.7 L1178.1 630.9 L1180.9 637.5 L1182.8 642.1 L1183.7 646.8 L1185.6 648.7 L1192.6 648.7 L1192.6 655.7 L1205.2 655.7 L1205.2 665.5 L1212.7 665.5 L1212.7 691.9 L1370.1 691.9" stroke="#2398DB" stroke-width="2.4" fill="none"/>
<path d="M1119.6 519.2h8.4M1123.8 515.0v8.4M1121.1 520.5h8.4M1125.3 516.3v8.4M1124.0 524.4h8.4M1128.2 520.2v8.4M1126.0 528.5h8.4M1130.2 524.3v8.4M1127.1 530.7h8.4M1131.3 526.5v8.4M1128.6 533.9h8.4M1132.8 529.7v8.4M1129.7 537.0h8.4M1133.9 532.8v8.4M1131.1 540.8h8.4M1135.3 536.6v8.4M1132.5 545.2h8.4M1136.7 541.0v8.4M1133.1 547.1h8.4M1137.3 542.9v8.4M1133.5 548.7h8.4M1137.7 544.5v8.4M1136.1 552.7h8.4M1140.3 548.5v8.4M1138.1 555.2h8.4M1142.3 551.0v8.4M1140.8 558.8h8.4M1145.0 554.6v8.4M1141.8 560.1h8.4M1146.0 555.9v8.4M1143.5 562.9h8.4M1147.7 558.7v8.4M1145.6 566.7h8.4M1149.8 562.5v8.4M1146.7 568.9h8.4M1150.9 564.7v8.4M1149.0 573.6h8.4M1153.2 569.4v8.4M1150.7 578.3h8.4M1154.9 574.1v8.4M1151.3 579.9h8.4M1155.5 575.7v8.4M1151.9 581.5h8.4M1156.1 577.3v8.4M1153.8 584.6h8.4M1158.0 580.4v8.4M1156.7 588.9h8.4M1160.9 584.7v8.4M1158.6 591.3h8.4M1162.8 587.1v8.4M1159.9 593.2h8.4M1164.1 589.0v8.4M1161.1 596.2h8.4M1165.3 592.0v8.4M1161.5 597.9h8.4M1165.7 593.7v8.4M1161.7 600.3h8.4M1165.9 596.1v8.4M1162.0 603.5h8.4M1166.2 599.3v8.4M1162.3 607.0h8.4M1166.5 602.8v8.4M1162.5 609.5h8.4M1166.7 605.3v8.4M1163.1 611.9h8.4M1167.3 607.7v8.4M1163.8 614.0h8.4M1168.0 609.8v8.4M1167.1 614.5h8.4M1171.3 610.3v8.4M1169.8 614.9h8.4M1174.0 610.7v8.4M1170.2 616.3h8.4M1174.4 612.1v8.4M1170.4 621.1h8.4M1174.6 616.9v8.4M1170.6 624.8h8.4M1174.8 620.6v8.4M1173.5 626.4h8.4M1177.7 622.2v8.4M1173.7 628.7h8.4M1177.9 624.5v8.4M1175.2 633.9h8.4M1179.4 629.7v8.4M1177.1 638.4h8.4M1181.3 634.2v8.4M1177.8 640.2h8.4M1182.0 636.0v8.4M1178.8 642.9h8.4M1183.0 638.7v8.4M1179.8 647.1h8.4M1184.0 642.9v8.4M1182.3 648.7h8.4M1186.5 644.5v8.4M1185.1 648.7h8.4M1189.3 644.5v8.4M1189.8 655.7h8.4M1194.0 651.5v8.4M1192.6 655.7h8.4M1196.8 651.5v8.4M1196.4 655.7h8.4M1200.6 651.5v8.4M1200.1 655.7h8.4M1204.3 651.5v8.4M1202.9 665.5h8.4M1207.1 661.3v8.4M1207.6 665.5h8.4M1211.8 661.3v8.4M1216.0 691.9h8.4M1220.2 687.7v8.4M1220.7 691.9h8.4M1224.9 687.7v8.4M1224.9 691.9h8.4M1229.1 687.7v8.4M1231.5 691.9h8.4M1235.7 687.7v8.4M1231.9 691.9h8.4M1236.1 687.7v8.4M1244.1 691.9h8.4M1248.3 687.7v8.4M1362.9 691.9h8.4M1367.1 687.7v8.4" stroke="#2398DB" stroke-width="1.6" fill="none"/>
</svg></body></html>
